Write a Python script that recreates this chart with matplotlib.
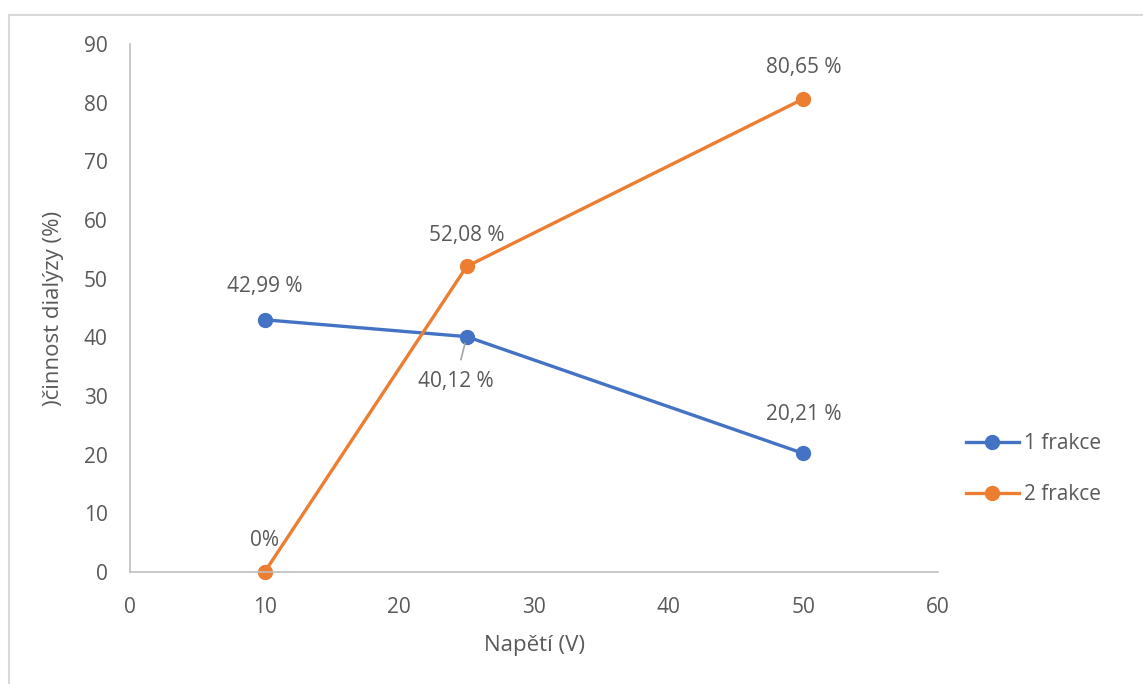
import matplotlib.pyplot as plt
from matplotlib.patches import Rectangle

plt.rcParams['font.family'] = ['Open Sans', 'DejaVu Sans']

# data
napeti = [10, 25, 50]
frakce1 = [42.99, 40.12, 20.21]
frakce2 = [0, 52.08, 80.65]
labels1 = ['42,99 %', '40,12 %', '20,21 %']
labels2 = ['0%', '52,08 %', '80,65 %']
series_names = ['1 frakce', '2 frakce']
x_ticks = [0, 10, 20, 30, 40, 50, 60]
y_ticks = [0, 10, 20, 30, 40, 50, 60, 70, 80, 90]

text_col = '#595959'
blue = '#4472C4'
orange = '#ED7D31'

fig = plt.figure(figsize=(11.43, 6.84), dpi=100)
# chart frame (only top and left edge visible in the crop)
fig.patches.append(Rectangle((9 / 1143, -0.1), 1.2, 1 - 14.5 / 684 + 0.1,
                             transform=fig.transFigure, fill=False,
                             edgecolor='#d9d9d9', linewidth=1.5))
ax = fig.add_axes([130 / 1143, 1 - 572 / 684, 808 / 1143, 528 / 684])

ax.plot(napeti, frakce1, color=blue, lw=2.4, marker='o', ms=10, label=series_names[0])
ax.plot(napeti, frakce2, color=orange, lw=2.4, marker='o', ms=10, label=series_names[1])

# data labels
offs1 = [(0, 24), (-8, -32), (0, 28)]
for x, y, t, o in zip(napeti, frakce1, labels1, offs1):
    if o[1] < 0:
        ax.annotate(t, (x, y), xytext=o, textcoords='offset points', ha='center', va='center',
                    fontsize=15, color=text_col,
                    arrowprops=dict(arrowstyle='-', color='#a6a6a6', lw=1.2, shrinkA=6, shrinkB=5))
    else:
        ax.annotate(t, (x, y), xytext=o, textcoords='offset points', ha='center', va='center',
                    fontsize=15, color=text_col)
for x, y, t in zip(napeti, frakce2, labels2):
    ax.annotate(t, (x, y), xytext=(0, 22.5), textcoords='offset points', ha='center', va='center',
                fontsize=15, color=text_col)

ax.set_xlim(0, 60)
ax.set_ylim(0, 90)
ax.set_xticks(x_ticks)
ax.set_yticks(y_ticks)
ax.tick_params(length=0, labelsize=15, labelcolor=text_col)
ax.tick_params(axis='x', pad=18)
ax.tick_params(axis='y', pad=16)
for s in ['top', 'right']:
    ax.spines[s].set_visible(False)
for s in ['left', 'bottom']:
    ax.spines[s].set_color('#bfbfbf')
    ax.spines[s].set_linewidth(1.2)
for ln in ax.lines:
    ln.set_clip_on(False)

ax.set_xlabel('Napětí (V)', fontsize=16, color=text_col, labelpad=12)
ax.set_ylabel(')činnost dialýzy (%)', fontsize=16, color=text_col, labelpad=14)

ax.legend(loc='center left', bbox_to_anchor=(1.012, 0.195), frameon=False, fontsize=15,
          labelcolor=text_col, labelspacing=1.45, handlelength=2.5, handletextpad=0.25)

fig.savefig('out.png', dpi=100)
